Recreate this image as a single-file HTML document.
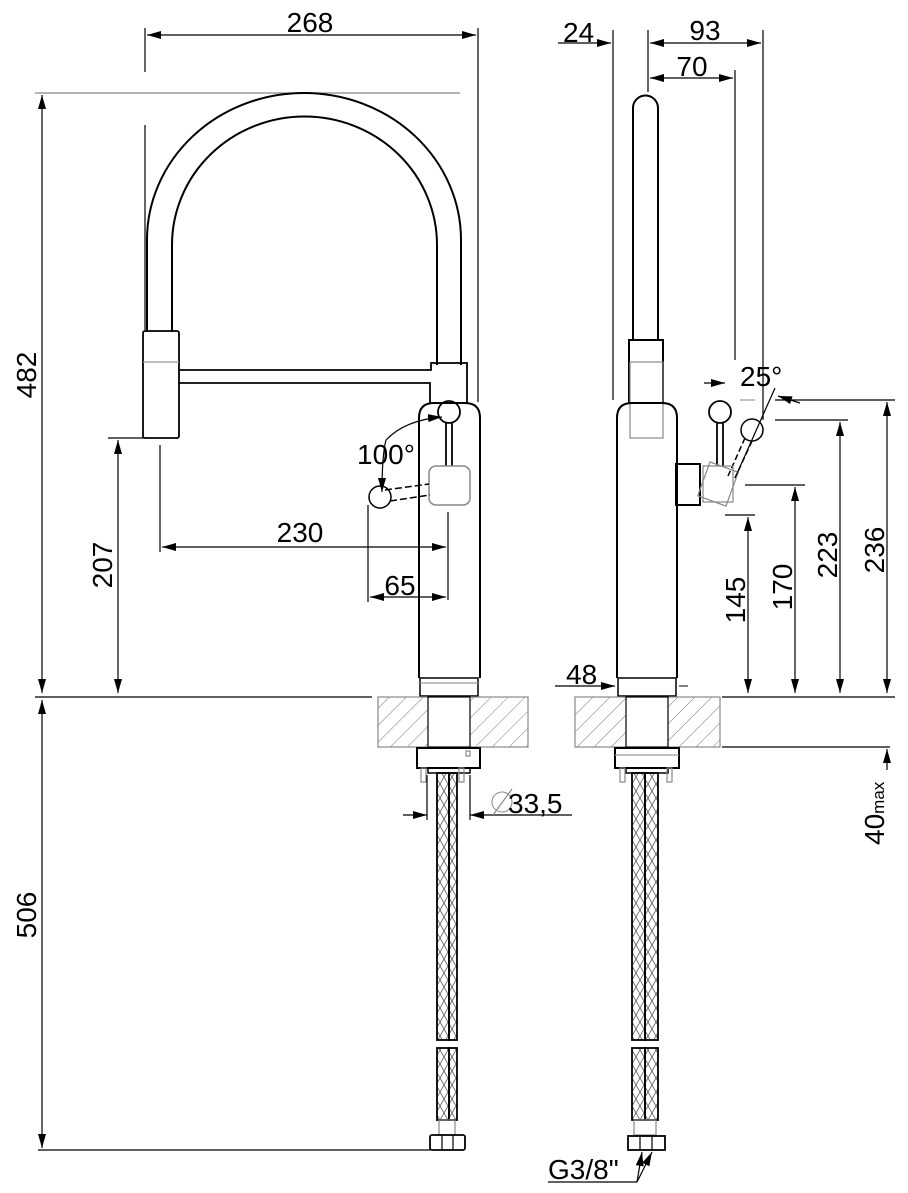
<!DOCTYPE html>
<html><head><meta charset="utf-8"><style>body{margin:0;background:#fff}svg{display:block}text{font-family:"Liberation Sans",Arial,sans-serif;fill:#000}</style></head><body>
<svg width="908" height="1193" viewBox="0 0 908 1193" xmlns="http://www.w3.org/2000/svg">
<defs>
<pattern id="h" width="12" height="12" patternUnits="userSpaceOnUse" patternTransform="rotate(45)"><line x1="0" y1="0" x2="0" y2="12" stroke="#777" stroke-width="1"/></pattern>
<pattern id="br" width="8" height="14" patternUnits="userSpaceOnUse"><path d="M0 0L8 14M8 0L0 14" stroke="#555" stroke-width="0.8"/></pattern>
<marker id="a" markerWidth="14" markerHeight="8" refX="14" refY="4" orient="auto-start-reverse" markerUnits="userSpaceOnUse"><path d="M0 0L14 4L0 8z" fill="#000"/></marker>
</defs>
<g fill="none" stroke="#000" stroke-width="1.2">
<line x1="145" y1="28" x2="145" y2="72"/>
<line x1="478" y1="28" x2="478" y2="402"/>
<line x1="147" y1="35" x2="476" y2="35" marker-start="url(#a)" marker-end="url(#a)"/>
<line x1="35" y1="93" x2="460" y2="93" stroke="#888"/>
<line x1="42" y1="95" x2="42" y2="693" marker-start="url(#a)" marker-end="url(#a)"/>
<line x1="108" y1="438" x2="145" y2="438"/>
<line x1="118" y1="440" x2="118" y2="693" marker-start="url(#a)" marker-end="url(#a)"/>
<line x1="145" y1="125" x2="145" y2="330"/>
<path d="M147 332 V240 A157 147 0 0 1 461 240 V365" stroke-width="2"/>
<path d="M172 332 V245 A132 128 0 0 1 437 245 V365" stroke-width="2"/>
<rect x="143" y="331" width="36" height="107" rx="2" stroke-width="1.8"/>
<line x1="143" y1="362" x2="179" y2="362" stroke="#999"/>
<path d="M179 370 H431 V363 H467 V403" stroke-width="1.8"/>
<path d="M179 383 H430 V403" stroke-width="1.8"/>
<path d="M419 678 V418 Q419 403 434 403 H465 Q480 403 480 418 V678" stroke-width="2"/>
<rect x="420" y="678" width="58" height="18" stroke-width="1.5"/>
<line x1="420" y1="683" x2="478" y2="683" stroke="#999"/>
<circle cx="449" cy="412" r="11" stroke-width="1.8"/>
<line x1="446" y1="422" x2="446" y2="466" stroke-width="1.8"/><line x1="452" y1="422" x2="452" y2="466" stroke-width="1.8"/>
<rect x="429" y="466" width="41" height="39" rx="7" stroke="#888" stroke-width="1.5"/>
<circle cx="380" cy="497" r="11" stroke-width="1.5"/>
<line x1="385" y1="490" x2="429" y2="484" stroke-dasharray="7 3" stroke-width="1.5"/>
<line x1="390" y1="501" x2="430" y2="495" stroke-dasharray="7 3" stroke-width="1.5"/>
<path d="M386 440 Q405 420 442 417" marker-end="url(#a)"/>
<path d="M386 440 Q382 455 382 492" marker-end="url(#a)"/>
<line x1="160" y1="445" x2="160" y2="552"/>
<line x1="448" y1="512" x2="448" y2="600"/>
<line x1="368" y1="505" x2="368" y2="602"/>
<line x1="162" y1="547" x2="446" y2="547" marker-start="url(#a)" marker-end="url(#a)"/>
<line x1="370" y1="597" x2="446" y2="597" marker-start="url(#a)" marker-end="url(#a)"/>
<line x1="35" y1="697" x2="372" y2="697"/>
<rect x="378" y="697" width="150" height="50" fill="url(#h)" stroke="#888"/>
<rect x="428" y="697" width="42" height="50" fill="#fff" stroke="#000"/>
<rect x="417" y="748" width="63" height="20" stroke-width="2"/>
<rect x="428" y="768" width="42" height="5" stroke-width="1.5"/>
<rect x="421" y="768" width="5" height="14" stroke="#888"/><rect x="459" y="768" width="5" height="14" stroke="#888"/>
<rect x="466" y="751" width="4" height="5" stroke="#888"/>
<rect x="437" y="773" width="12" height="267" fill="url(#br)" stroke-width="1.8"/>
<rect x="449" y="773" width="8" height="267" fill="url(#br)" stroke-width="1.8"/>
<rect x="437" y="1048" width="12" height="72" fill="url(#br)" stroke-width="1.8"/>
<rect x="449" y="1048" width="8" height="72" fill="url(#br)" stroke-width="1.8"/>
<rect x="439" y="1120" width="16" height="15" stroke="#888"/>
<rect x="430" y="1135" width="35" height="15" rx="2" stroke-width="1.8"/>
<line x1="442" y1="1135" x2="442" y2="1150"/><line x1="453" y1="1135" x2="453" y2="1150"/>
<line x1="42" y1="700" x2="42" y2="1148" marker-start="url(#a)" marker-end="url(#a)"/>
<line x1="38" y1="1150" x2="430" y2="1150"/>
<line x1="427" y1="775" x2="427" y2="820"/><line x1="470" y1="775" x2="470" y2="820"/>
<line x1="403" y1="815" x2="427" y2="815" marker-end="url(#a)"/>
<line x1="572" y1="815" x2="470" y2="815" marker-end="url(#a)"/>
<circle cx="502" cy="802" r="10" stroke="#888" stroke-width="1"/><line x1="493" y1="815" x2="512" y2="789" stroke="#888"/>

<line x1="613" y1="30" x2="613" y2="400"/>
<line x1="648" y1="30" x2="648" y2="92"/>
<line x1="763" y1="30" x2="763" y2="420"/>
<line x1="735" y1="70" x2="735" y2="360"/>
<line x1="558" y1="43" x2="611" y2="43" marker-end="url(#a)"/>
<line x1="650" y1="43" x2="761" y2="43" marker-start="url(#a)" marker-end="url(#a)"/>
<line x1="650" y1="78" x2="733" y2="78" marker-start="url(#a)" marker-end="url(#a)"/>
<path d="M633 340 V108 A12.5 12.5 0 0 1 658 108 V340" stroke-width="2"/>
<path d="M629 403 V340 H663 V403" stroke-width="2"/>
<rect x="630" y="362" width="33" height="76" stroke="#888"/>
<path d="M617 678 V418 Q617 403 632 403 H662 Q677 403 677 418 V678" stroke-width="2"/>
<rect x="618" y="678" width="58" height="18" stroke-width="1.5"/>
<rect x="676" y="464" width="24" height="41" stroke-width="2"/>
<circle cx="720" cy="412" r="11" stroke-width="1.8"/>
<line x1="717" y1="422" x2="717" y2="466" stroke-width="1.8"/><line x1="723" y1="422" x2="723" y2="466" stroke-width="1.8"/>
<circle cx="752" cy="430" r="11" stroke-width="1.5"/>
<line x1="745" y1="438" x2="728" y2="476" stroke-dasharray="6 3" stroke-width="1.5"/>
<line x1="752" y1="441" x2="735" y2="478" stroke-dasharray="6 3" stroke-width="1.5"/>
<rect x="703" y="466" width="30" height="36" stroke="#888" transform="rotate(20 718 484)"/>
<rect x="703" y="466" width="30" height="36" stroke="#888"/>
<line x1="704" y1="383" x2="725" y2="383" marker-end="url(#a)"/>
<line x1="740" y1="400" x2="755" y2="400" stroke="#999"/>
<line x1="775" y1="388" x2="735" y2="478"/>
<line x1="800" y1="403" x2="778" y2="396" marker-end="url(#a)"/>
<line x1="775" y1="400" x2="895" y2="400"/>
<line x1="775" y1="420" x2="848" y2="420"/>
<line x1="745" y1="485" x2="805" y2="485"/>
<line x1="725" y1="515" x2="755" y2="515"/>
<line x1="748" y1="517" x2="748" y2="693" marker-start="url(#a)" marker-end="url(#a)"/>
<line x1="795" y1="487" x2="795" y2="693" marker-start="url(#a)" marker-end="url(#a)"/>
<line x1="840" y1="422" x2="840" y2="693" marker-start="url(#a)" marker-end="url(#a)"/>
<line x1="887" y1="402" x2="887" y2="693" marker-start="url(#a)" marker-end="url(#a)"/>
<line x1="555" y1="686" x2="615" y2="686" marker-end="url(#a)"/>
<line x1="688" y1="686" x2="679" y2="686" stroke-width="1"/>
<line x1="722" y1="697" x2="895" y2="697"/>
<line x1="722" y1="747" x2="890" y2="747"/>
<line x1="887" y1="749" x2="887" y2="770" marker-start="url(#a)"/>
<rect x="575" y="697" width="145" height="50" fill="url(#h)" stroke="#888"/>
<rect x="626" y="697" width="42" height="50" fill="#fff" stroke="#000"/>
<rect x="615" y="748" width="64" height="20" stroke-width="2"/>
<line x1="615" y1="755" x2="679" y2="755" stroke="#999"/>
<rect x="626" y="768" width="42" height="5" stroke-width="1.5"/>
<rect x="620" y="768" width="5" height="14" stroke="#888"/><rect x="667" y="768" width="5" height="14" stroke="#888"/>
<rect x="632" y="773" width="13" height="267" fill="url(#br)" stroke-width="1.8"/>
<rect x="645" y="773" width="13" height="267" fill="url(#br)" stroke-width="1.8"/>
<rect x="632" y="1048" width="13" height="72" fill="url(#br)" stroke-width="1.8"/>
<rect x="645" y="1048" width="13" height="72" fill="url(#br)" stroke-width="1.8"/>
<rect x="634" y="1120" width="22" height="15" stroke="#888"/>
<rect x="628" y="1136" width="37" height="14" stroke-width="1.8"/>
<line x1="640" y1="1136" x2="640" y2="1150"/><line x1="652" y1="1136" x2="652" y2="1150"/>
<line x1="548" y1="1182" x2="637" y2="1182"/>
<line x1="637" y1="1182" x2="642" y2="1152" marker-end="url(#a)"/>
<line x1="637" y1="1182" x2="652" y2="1152" marker-end="url(#a)"/>
</g>
<g font-size="28">
<text x="310" y="32" text-anchor="middle">268</text>
<text transform="translate(36 375) rotate(-90)" text-anchor="middle">482</text>
<text transform="translate(112 565) rotate(-90)" text-anchor="middle">207</text>
<text x="357" y="464">100°</text>
<text x="300" y="542" text-anchor="middle">230</text>
<text x="400" y="595" text-anchor="middle">65</text>
<text transform="translate(36 915) rotate(-90)" text-anchor="middle">506</text>
<text x="508" y="813">33,5</text>
<text x="563" y="42">24</text>
<text x="705" y="40" text-anchor="middle">93</text>
<text x="692" y="76" text-anchor="middle">70</text>
<text x="740" y="386">25°</text>
<text x="566" y="684">48</text>
<text transform="translate(745 600) rotate(-90)" text-anchor="middle">145</text>
<text transform="translate(792 587) rotate(-90)" text-anchor="middle">170</text>
<text transform="translate(837 555) rotate(-90)" text-anchor="middle">223</text>
<text transform="translate(884 550) rotate(-90)" text-anchor="middle">236</text>
<text transform="translate(884 845) rotate(-90)">40<tspan font-size="17">max</tspan></text>
<text x="548" y="1179">G3/8"</text>
</g>
</svg>
</body></html>
